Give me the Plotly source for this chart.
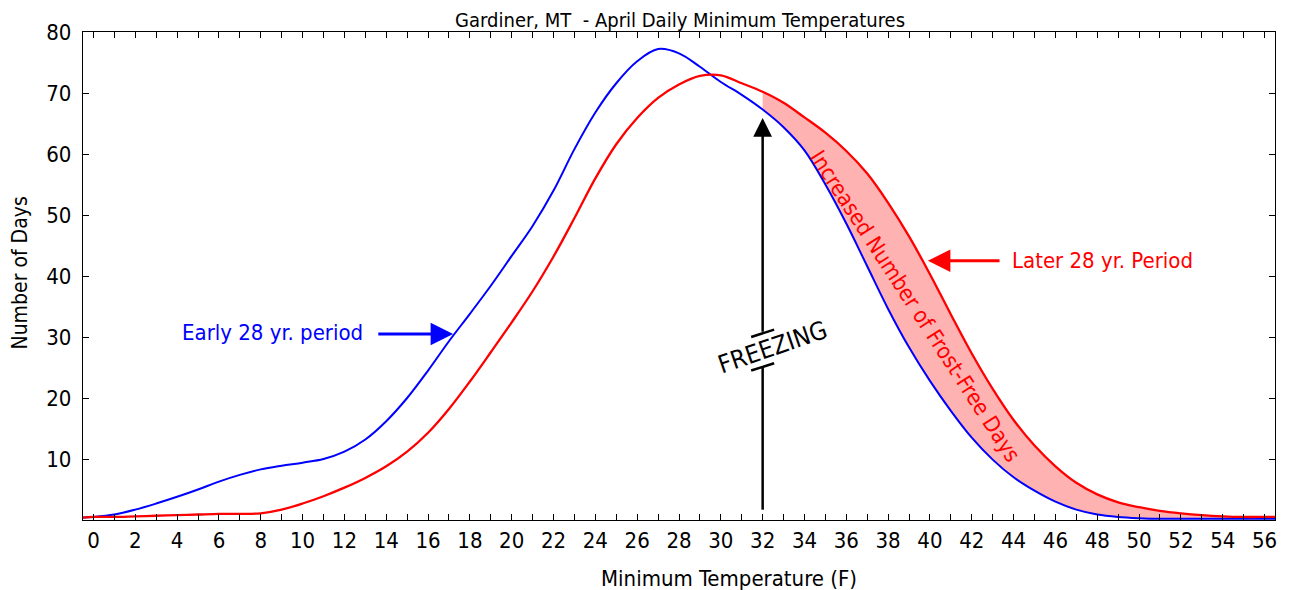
import plotly.graph_objects as go

# ---------------- data ----------------
TEMPS = [-0.5, 0, 1, 2, 3, 4, 5, 6, 7, 8, 9, 10, 11, 12, 13, 14, 15, 16, 17, 18, 19,
         20, 21, 22, 23, 24, 25, 26, 27, 28, 29, 30, 31, 32, 33, 34, 35, 36, 37, 38,
         39, 40, 41, 42, 43, 44, 45, 46, 47, 48, 49, 50, 51, 52, 53, 54, 55, 56, 56.5]

EARLY_DAYS = [0.4, 0.5, 0.9, 1.7, 2.7, 3.8, 5.0, 6.3, 7.4, 8.3, 8.9, 9.4, 10.0, 11.2,
              13.2, 16.2, 20.0, 24.5, 29.3, 33.8, 38.4, 43.3, 48.2, 54.0, 60.8, 66.8,
              71.6, 75.2, 77.2, 76.5, 74.3, 71.8, 69.7, 67.3, 64.4, 60.6, 55.0, 48.6,
              41.6, 34.6, 28.3, 22.8, 17.9, 13.5, 9.9, 7.0, 4.8, 3.0, 1.7, 0.9, 0.5,
              0.3, 0.2, 0.2, 0.2, 0.2, 0.2, 0.2, 0.2]

LATER_DAYS = [0.4, 0.5, 0.5, 0.6, 0.7, 0.8, 0.9, 1.0, 1.0, 1.1, 1.7, 2.7, 3.9, 5.3,
              6.9, 8.8, 11.2, 14.3, 18.2, 22.7, 27.5, 32.4, 37.5, 43.2, 49.5, 56.0,
              61.6, 65.9, 69.2, 71.4, 72.8, 72.9, 71.6, 70.2, 68.4, 66.0, 63.5, 60.5,
              56.8, 52.0, 46.5, 40.3, 33.7, 27.3, 21.5, 16.4, 12.2, 8.8, 6.1, 4.2, 2.9,
              2.1, 1.5, 1.1, 0.8, 0.6, 0.5, 0.5, 0.5]

FREEZING_F = 32
Y_TICKS = [10, 20, 30, 40, 50, 60, 70, 80]

TITLE = "Gardiner, MT\u00a0 - April Daily Minimum Temperatures"
X_TITLE = "Minimum Temperature (F)"
Y_TITLE = "Number of Days"
EARLY_LABEL = "Early 28 yr. period"
LATER_LABEL = "Later 28 yr. Period"
BAND_LABEL = "Increased Number of Frost-Free Days"
FREEZE_LABEL = "FREEZING"

# ---------------- styles ----------------
FONT = "DejaVu Sans Condensed, Liberation Sans Narrow, DejaVu Sans, sans-serif"
BLUE = "#0000ff"
RED = "#ff0000"

fig = go.Figure()

i0 = TEMPS.index(FREEZING_F)
# shaded band between the curves above freezing
fig.add_trace(go.Scatter(x=TEMPS[i0:], y=EARLY_DAYS[i0:], mode="lines",
                         line=dict(width=0, shape="spline"), hoverinfo="skip",
                         showlegend=False))
fig.add_trace(go.Scatter(x=TEMPS[i0:], y=LATER_DAYS[i0:], mode="lines",
                         line=dict(width=0, shape="spline"), fill="tonexty",
                         fillcolor="rgba(255,0,0,0.3)", hoverinfo="skip",
                         showlegend=False))
fig.add_trace(go.Scatter(x=TEMPS, y=EARLY_DAYS, mode="lines", name=EARLY_LABEL,
                         line=dict(color=BLUE, width=2, shape="spline"),
                         showlegend=False))
fig.add_trace(go.Scatter(x=TEMPS, y=LATER_DAYS, mode="lines", name=LATER_LABEL,
                         line=dict(color=RED, width=2.3, shape="spline"),
                         showlegend=False))

# ---------------- annotations ----------------
ann = []
ann.append(dict(x=17.2, y=30.5, ax=13.55, ay=30.5, xref="x", yref="y", axref="x", ayref="y",
                text="", showarrow=True, arrowhead=2, arrowsize=1.5, arrowwidth=3,
                arrowcolor=BLUE))
ann.append(dict(x=8.55, y=30.8, xref="x", yref="y", text=EARLY_LABEL, showarrow=False,
                font=dict(color=BLUE, size=22, family=FONT)))
ann.append(dict(x=39.9, y=42.5, ax=43.4, ay=42.5, xref="x", yref="y", axref="x", ayref="y",
                text="", showarrow=True, arrowhead=2, arrowsize=1.5, arrowwidth=3,
                arrowcolor=RED))
ann.append(dict(x=48.26, y=42.6, xref="x", yref="y", text=LATER_LABEL, showarrow=False,
                font=dict(color=RED, size=22, family=FONT)))
ann.append(dict(x=39.3, y=35.0, xref="x", yref="y", text=BAND_LABEL, showarrow=False,
                textangle=57, font=dict(color=RED, size=22, family=FONT)))
ann.append(dict(x=FREEZING_F, y=65.9, ax=FREEZING_F, ay=30.6, xref="x", yref="y",
                axref="x", ayref="y", text="", showarrow=True, arrowhead=2,
                arrowsize=1.5, arrowwidth=2.5, arrowcolor="black"))
ann.append(dict(x=32.45, y=28.3, xref="x", yref="y", text=FREEZE_LABEL, showarrow=False,
                textangle=-19, font=dict(color="black", size=25, family=FONT)))
ann.append(dict(x=0.542, y=-0.119, xref="paper", yref="paper", text=X_TITLE,
                xanchor="center", yanchor="middle",
                showarrow=False, font=dict(size=22, family=FONT, color="black")))
ann.append(dict(x=-0.0525, y=0.506, xref="paper", yref="paper", text=Y_TITLE,
                xanchor="center", yanchor="middle",
                showarrow=False, textangle=-90,
                font=dict(size=21, family=FONT, color="black")))

shapes = []
shapes.append(dict(type="line", xref="x", yref="y", x0=FREEZING_F, x1=FREEZING_F,
                   y0=1.7, y1=25.0, line=dict(color="black", width=2.5)))
for yc in (30.6, 25.1):
    shapes.append(dict(type="line", xref="x", yref="y", x0=FREEZING_F - 0.55,
                       x1=FREEZING_F + 0.55, y0=yc - 0.6, y1=yc + 0.6,
                       line=dict(color="black", width=2.5)))

# the page body has an 8px default margin, so the figure is 8px smaller
fig.update_layout(
    width=1286, height=582,
    margin=dict(l=75, r=19, t=24, b=70, autoexpand=False),
    paper_bgcolor="white", plot_bgcolor="white",
    font=dict(family=FONT, color="black"),
    title=dict(text=TITLE, x=0.5226, xanchor="center", y=0.979, yanchor="middle",
               automargin=False, font=dict(size=20, family=FONT, color="black")),
    annotations=ann, shapes=shapes,
)
fig.update_xaxes(range=[-0.5, 56.5], tick0=0, dtick=2, ticks="inside", ticklen=6,
                 tickcolor="black", tickwidth=1, showline=True, linecolor="black",
                 linewidth=1.3, mirror="ticks", showgrid=False, zeroline=False,
                 automargin=False,
                 tickfont=dict(size=22, family=FONT, color="black"),
                 minor=dict(dtick=1, tick0=0, ticks="inside", ticklen=6,
                            tickcolor="black", tickwidth=1, showgrid=False))
fig.update_yaxes(range=[0, 80], tickmode="array", tickvals=Y_TICKS, ticks="inside",
                 ticklen=6, tickcolor="black", tickwidth=1, showline=True,
                 linecolor="black", linewidth=1.3, mirror="ticks", showgrid=False,
                 zeroline=False, ticklabelstandoff=6, automargin=False,
                 tickfont=dict(size=22, family=FONT, color="black"))

fig.write_html("out.html")
